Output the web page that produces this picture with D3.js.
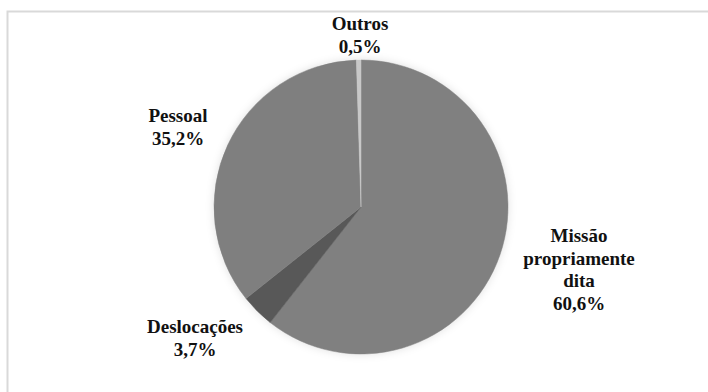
<!DOCTYPE html>
<html><head><meta charset="utf-8">
<script src="https://cdn.jsdelivr.net/npm/d3@7"></script>
<style>html,body{margin:0;padding:0;background:#fff;}</style>
</head><body>
<svg id="c" width="708" height="392"></svg>
<script>
const categories = ["Missão propriamente dita", "Deslocações", "Pessoal", "Outros"];
const values = [60.6, 3.7, 35.2, 0.5];
const valueLabels = ["60,6%", "3,7%", "35,2%", "0,5%"];
const labelLines = [["Missão", "propriamente", "dita"], ["Deslocações"], ["Pessoal"], ["Outros"]];
const colors = ["#808080", "#595959", "#7f7f7f", "#c8c8c8"];
const labelPos = [[579, 242], [195, 333], [178, 122], [360, 30]];

const svg = d3.select("#c");
svg.append("path").attr("d", "M7.5,392 V11.5 H708").attr("fill","none").attr("stroke","#d9d9d9").attr("stroke-width",2);

const defs = svg.append("defs");
const f = defs.append("filter").attr("id","glow").attr("x","-20%").attr("y","-20%").attr("width","140%").attr("height","140%");
f.append("feGaussianBlur").attr("in","SourceAlpha").attr("stdDeviation",4).attr("result","b");
f.append("feFlood").attr("flood-color","#000").attr("flood-opacity",0.12);
f.append("feComposite").attr("in2","b").attr("operator","in").attr("result","s");
const m = f.append("feMerge"); m.append("feMergeNode").attr("in","s"); m.append("feMergeNode").attr("in","SourceGraphic");

const cx = 361, cy = 207, r = 147;
const pie = d3.pie().sort(null).value(d => d)(values);
const arc = d3.arc().innerRadius(0).outerRadius(r);
const g = svg.append("g").attr("transform", `translate(${cx},${cy})`).attr("filter","url(#glow)");
g.selectAll("path").data(pie).join("path").attr("d", arc).attr("fill", (d,i) => colors[i])
  .attr("stroke", (d,i) => colors[i]).attr("stroke-width",0.5);

const lh = 22.5;
categories.forEach((c,i) => {
  const t = svg.append("text").attr("text-anchor","middle")
    .attr("font-family", "Times New Roman, Liberation Serif, DejaVu Serif, serif")
    .attr("font-weight", "bold").attr("font-size", 19).attr("fill", "#111");
  const lines = labelLines[i].concat([valueLabels[i]]);
  lines.forEach((ln,j) => t.append("tspan").attr("x", labelPos[i][0]).attr("y", labelPos[i][1] + j*lh).text(ln));
});
</script>
</body></html>
